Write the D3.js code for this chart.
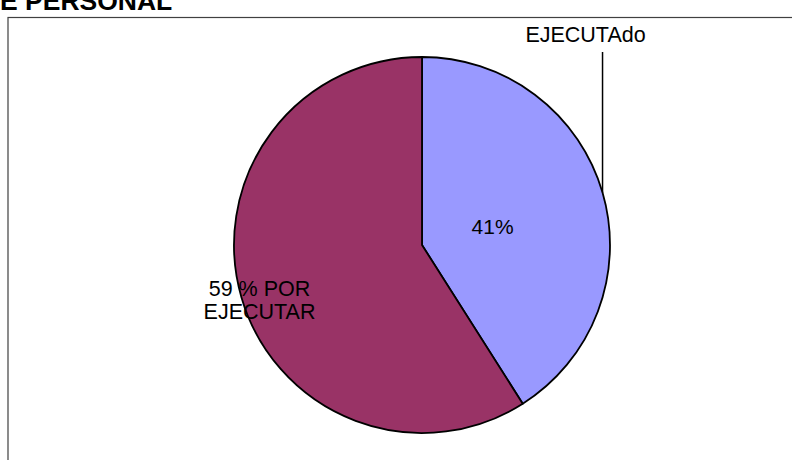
<!DOCTYPE html>
<html><head><meta charset="utf-8">
<script src="https://cdn.jsdelivr.net/npm/d3@7/dist/d3.min.js"></script>
<style>body{margin:0;background:#fff}svg{display:block}</style>
</head><body>
<svg id="c" width="792" height="460"></svg>
<script>
const categories = ["EJECUTAdo", "POR EJECUTAR"];
const values = [41, 59];
const labels = ["41%", "59 % POR\nEJECUTAR"];
const colors = ["#9999FF", "#993366"];
const title = "E PERSONAL";

const svg = d3.select("#c");
const W = 792, H = 460;
const cx = 422, cy = 245, R = 188;

svg.append("rect").attr("width", W).attr("height", H).attr("fill", "#fff");
// chart frame (partially out of view)
svg.append("rect").attr("x", 8).attr("y", 17.5).attr("width", 900).attr("height", 600)
  .attr("fill", "none").attr("stroke", "#404040").attr("stroke-width", 1.2);

svg.append("text").attr("x", 0).attr("y", 10)
  .attr("font-family", "Liberation Sans, Arial, sans-serif").attr("font-weight", "bold")
  .attr("font-size", 26.5).attr("fill", "#000").text(title);

const pie = d3.pie().sort(null).value(d => d)(values);
const arc = d3.arc().innerRadius(0).outerRadius(R);
const g = svg.append("g").attr("transform", `translate(${cx},${cy})`);
g.selectAll("path").data(pie).join("path")
  .attr("d", arc).attr("fill", (d, i) => colors[i])
  .attr("stroke", "#000").attr("stroke-width", 1.8).attr("stroke-linejoin", "round");

const font = "Liberation Sans, Arial, sans-serif";
// 41% label inside
const a0 = pie[0], m0 = (a0.startAngle + a0.endAngle) / 2;
g.append("text").attr("x", Math.sin(m0) * R * 0.38 + 2).attr("y", -Math.cos(m0) * R * 0.38 + 9)
  .attr("text-anchor", "middle").attr("font-family", font).attr("font-size", 21)
  .text(labels[0]);

// leader line for EJECUTAdo
const ex = Math.sin(m0) * R, ey = -Math.cos(m0) * R;
g.append("line").attr("x1", ex).attr("y1", ey).attr("x2", ex).attr("y2", 52 - cy)
  .attr("stroke", "#000").attr("stroke-width", 1.5);
g.append("text").attr("x", ex - 17).attr("y", 42 - cy)
  .attr("text-anchor", "middle").attr("font-family", font).attr("font-size", 21.5)
  .text(categories[0]);

// 59% label
const a1 = pie[1], m1 = (a1.startAngle + a1.endAngle) / 2;
const lx = Math.sin(m1) * R * 0.9, ly = -Math.cos(m1) * R * 0.9;
const t = g.append("text").attr("text-anchor", "middle").attr("font-family", font).attr("font-size", 21.5);
labels[1].split("\n").forEach((s, i) => {
  t.append("tspan").attr("x", lx).attr("y", ly + 4 + i * 23).text(s);
});
</script>
</body></html>
